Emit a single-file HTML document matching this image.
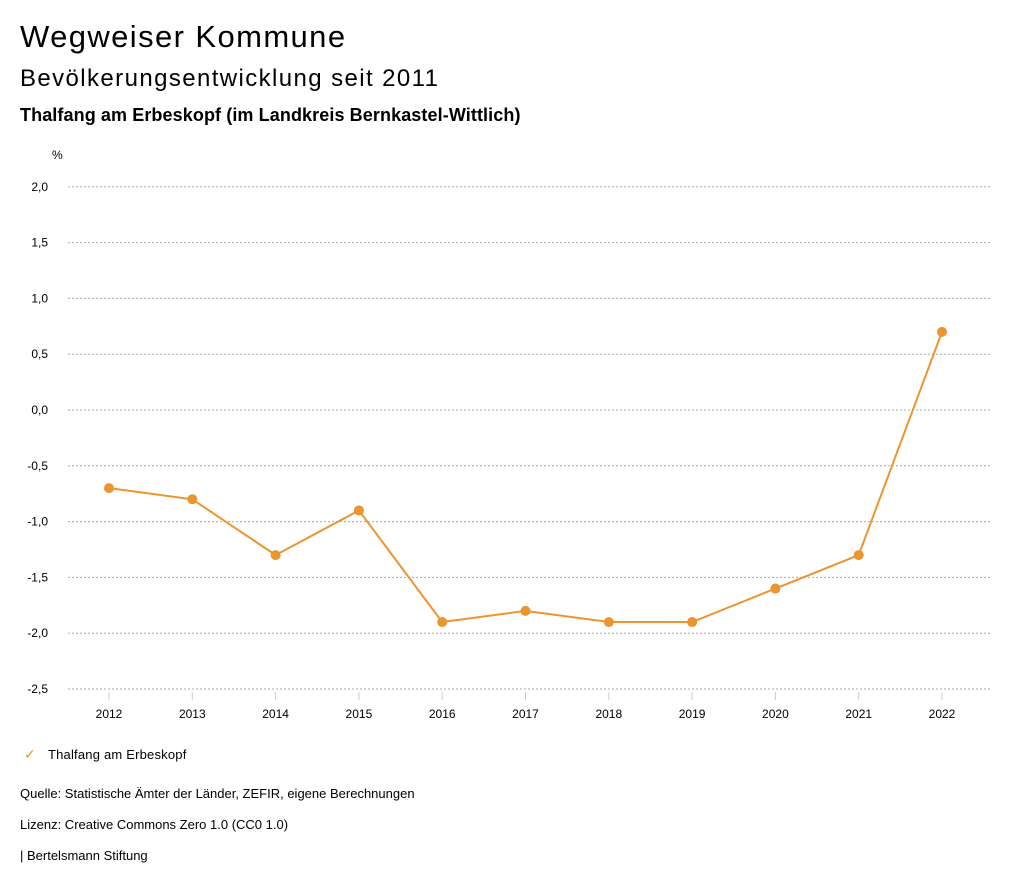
<!DOCTYPE html>
<html><head><meta charset="utf-8"><style>
body{margin:0;background:#fff;width:1024px;height:888px;overflow:hidden;font-family:"Liberation Sans",sans-serif;color:#000}
.t{position:absolute;left:20px;white-space:nowrap}
</style></head><body>
<div class="t" style="top:19px;font-size:31px;letter-spacing:1.4px">Wegweiser Kommune</div>
<div class="t" style="top:65px;font-size:24px;letter-spacing:1.4px">Bevölkerungsentwicklung seit 2011</div>
<div class="t" style="top:105px;font-size:18px;font-weight:bold;letter-spacing:0.1px">Thalfang am Erbeskopf (im Landkreis Bernkastel-Wittlich)</div>
<svg width="1024" height="888" style="position:absolute;left:0;top:0">
<text x="52" y="159" font-size="12" font-family="Liberation Sans">%</text>
<g id="grid"></g><g id="xt"></g><g id="series"></g>
</svg>
<div style="position:absolute;left:24px;top:746px;font-size:13px;white-space:nowrap;letter-spacing:0.2px"><span style="color:#ec9530;font-size:14px;margin-right:12px">✓</span>Thalfang am Erbeskopf</div>
<div class="t" style="top:786px;font-size:13px">Quelle: Statistische Ämter der Länder, ZEFIR, eigene Berechnungen</div>
<div class="t" style="top:817px;font-size:13px">Lizenz: Creative Commons Zero 1.0 (CC0 1.0)</div>
<div class="t" style="top:848px;font-size:13px">| Bertelsmann Stiftung</div>
<script>
const years=[2012,2013,2014,2015,2016,2017,2018,2019,2020,2021,2022];
const values=[-0.7,-0.8,-1.3,-0.9,-1.9,-1.8,-1.9,-1.9,-1.6,-1.3,0.7];
const yTicks=[2.0,1.5,1.0,0.5,0.0,-0.5,-1.0,-1.5,-2.0,-2.5];
const NS="http://www.w3.org/2000/svg";
const y=v=>410-v*111.6;
const x=i=>109+i*83.3;
function mk(t,a,p){const e=document.createElementNS(NS,t);for(const k in a)e.setAttribute(k,a[k]);p.appendChild(e);return e;}
const g=document.getElementById('grid');
yTicks.forEach(v=>{
 const l=mk('line',{x1:68,x2:990,y1:y(v),y2:y(v),stroke:'#aaa','stroke-dasharray':'2,2'},g);
 
 
 const t=mk('text',{x:48,y:y(v)+4,'text-anchor':'end','font-size':12,'font-family':'Liberation Sans'},g);
 t.textContent=v.toFixed(1).replace('.',',');
 
 
});
const xt=document.getElementById('xt');
years.forEach((yr,i)=>{
 mk('line',{x1:x(i),x2:x(i),y1:692,y2:700,stroke:'#ccc'},xt);
 const t=mk('text',{x:x(i),y:718,'text-anchor':'middle','font-size':12,'font-family':'Liberation Sans'},xt);
 t.textContent=yr;
 
 
});
const s=document.getElementById('series');
const p=mk('polyline',{points:values.map((v,i)=>x(i)+','+y(v)).join(' '),fill:'none',stroke:'#ec9530','stroke-width':2},s);


values.forEach((v,i)=>{
 const c=mk('circle',{cx:x(i),cy:y(v),r:5,fill:'#ec9530'},s);
 
 
});
</script>
</body></html>
